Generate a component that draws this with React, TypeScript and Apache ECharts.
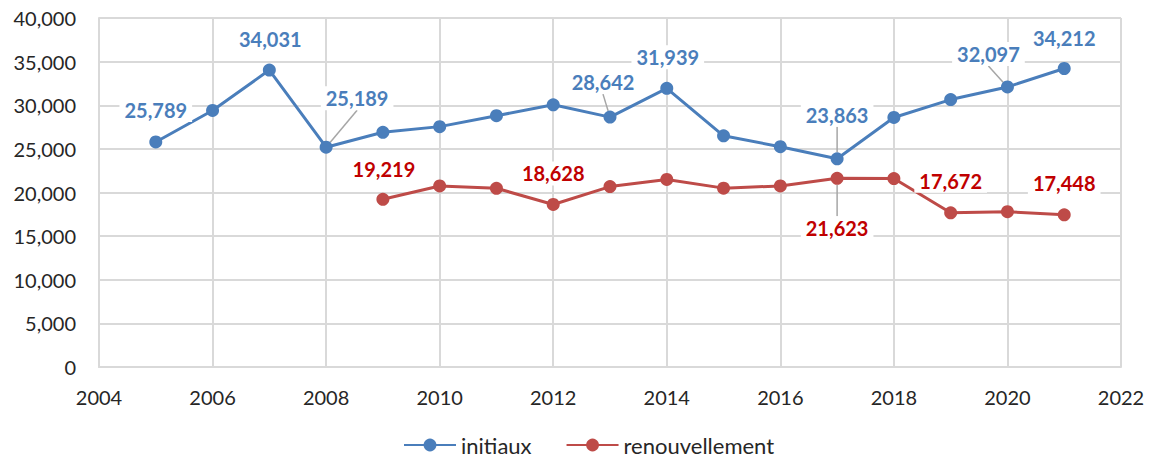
import React, { useEffect, useRef } from "react";
import * as echarts from "echarts";

const years = [2005, 2006, 2007, 2008, 2009, 2010, 2011, 2012, 2013, 2014, 2015, 2016, 2017, 2018, 2019, 2020, 2021];
const initiaux = [25789, 29400, 34031, 25189, 26900, 27550, 28800, 30050, 28642, 31939, 26500, 25250, 23863, 28600, 30650, 32097, 34212];
const renouvellement = [null, null, null, null, 19219, 20750, 20480, 18628, 20680, 21500, 20500, 20750, 21623, 21600, 17672, 17800, 17448];
const xTicks = { min: 2004, max: 2022, interval: 2 };
const yTicks = { min: 0, max: 40000, interval: 5000 };

// label offsets (style): year -> [dx, dy, leaderLine]
const blueLabels: Record<number, [number, number, boolean]> = {
  2005: [0, -32, false],
  2007: [1, -31, false],
  2008: [31, -49, true],
  2013: [-7, -35, true],
  2014: [1, -31, false],
  2017: [0, -44, true],
  2020: [-19, -33, true],
  2021: [0, -31, false],
};
const redLabels: Record<number, [number, number, boolean]> = {
  2009: [1, -30, false],
  2012: [0, -31, false],
  2017: [0, 50, true],
  2019: [0, -32, false],
  2021: [0, -32, false],
};

const FONT = "Lato, 'Open Sans', sans-serif";

function buildData(vals: (number | null)[], labels: Record<number, [number, number, boolean]>) {
  return years.map((y, i) => {
    const v = vals[i];
    if (v == null) return [y, null];
    const l = labels[y];
    return {
      value: [y, v],
      label: { show: !!l },
      labelLine: { show: !!(l && l[2]) },
    };
  });
}

export default function App() {
  const ref = useRef<HTMLDivElement>(null);
  useEffect(() => {
    if (!ref.current) return;
    const chart = echarts.init(ref.current, undefined, { renderer: "svg" });
    const fmt = (p: any) => Number(p.value[1]).toLocaleString("en-US");
    const mkSeries = (name: string, vals: any[], labels: any, color: string, labelColor: string) => ({
      name,
      type: "line",
      data: buildData(vals, labels),
      symbol: "circle",
      symbolSize: 13,
      connectNulls: false,
      lineStyle: { color, width: 3 },
      itemStyle: { color },
      label: {
        show: false,
        position: "inside",
        formatter: fmt,
        color: labelColor,
        fontFamily: FONT,
        fontSize: 20,
        fontWeight: "bold",
        backgroundColor: "#ffffff",
        padding: [2, 5],
      },
      labelLine: { show: false, lineStyle: { color: "#a6a6a6", width: 1.5 } },
      labelLayout: (params: any) => {
        const y = years[params.dataIndex];
        const l = labels[y];
        if (!l) return {};
        return { dx: l[0], dy: l[1] };
      },
      z: 3,
    });
    chart.setOption({
      animation: false,
      grid: { left: 99, right: 34, top: 18, bottom: 94, containLabel: false },
      xAxis: {
        type: "value",
        ...xTicks,
        axisLine: { show: true, lineStyle: { color: "#d9d9d9", width: 2 } },
        axisTick: { show: false },
        splitLine: { show: true, lineStyle: { color: "#d9d9d9", width: 2 } },
        axisLabel: { color: "#262626", fontFamily: FONT, fontSize: 20, margin: 20, formatter: (v: number) => String(v) },
      },
      yAxis: {
        type: "value",
        ...yTicks,
        axisLine: { show: true, lineStyle: { color: "#d9d9d9", width: 2 } },
        axisTick: { show: false },
        splitLine: { show: true, lineStyle: { color: "#d9d9d9", width: 2 } },
        axisLabel: {
          color: "#262626",
          fontFamily: FONT,
          fontSize: 20,
          margin: 23,
          formatter: (v: number) => v.toLocaleString("en-US"),
        },
      },
      legend: {
        bottom: 0,
        left: 398,
        itemWidth: 52,
        itemHeight: 16,
        itemGap: 34,
        textStyle: { color: "#262626", fontFamily: FONT, fontSize: 22 },
        data: ["initiaux", "renouvellement"],
      },
      series: [
        mkSeries("initiaux", initiaux, blueLabels, "#4a7ebb", "#4a7ebb"),
        mkSeries("renouvellement", renouvellement, redLabels, "#be4b48", "#c00000"),
      ],
    });
    return () => chart.dispose();
  }, []);
  return <div ref={ref} style={{ width: 1155, height: 461, position: "absolute", left: 0, top: 0 }} />;
}
